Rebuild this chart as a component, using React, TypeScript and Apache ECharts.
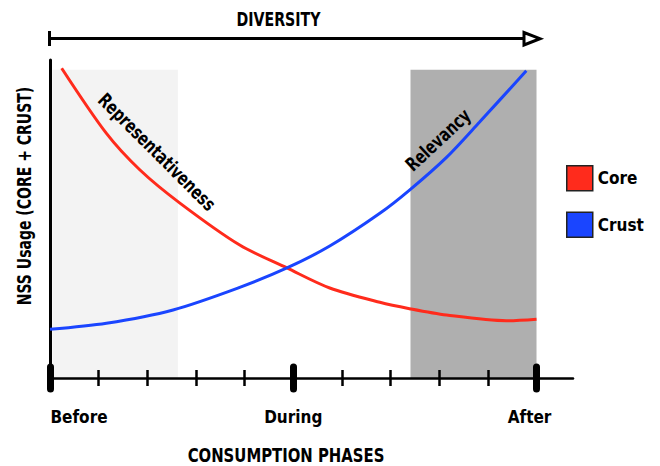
import React, { useEffect, useRef } from "react";
import * as echarts from "echarts";

// Core (red) curve: [phase position, usage]
const coreData: number[][] = [
  [0.24, 97.4], [1.16, 76.9], [1.85, 65.4], [2.67, 55.0], [3.9, 41.8],
  [4.87, 34.6], [5.75, 28.3], [6.78, 23.8], [7.39, 21.8], [8.15, 19.8],
  [9.38, 18.0], [10.0, 18.5],
];
// Crust (blue) curve
const crustData: number[][] = [
  [0.0, 15.3], [1.16, 17.2], [2.53, 21.4], [3.9, 28.5], [4.87, 34.6],
  [5.75, 41.5], [6.78, 51.8], [7.39, 59.1], [8.15, 69.4], [8.83, 80.5],
  [9.79, 96.6],
];
const phaseTicks = [0, 5, 10];
const phaseLabels = ["Before", "During", "After"];
const minorTicks = [1, 2, 3, 4, 6, 7, 8, 9];
const lightBand = [0.05, 2.63];
const darkBand = [7.41, 10];
const bandTop = 96.9;
const seriesNames = ["Core", "Crust"];

const FONT = "'Liberation Sans Narrow', 'DejaVu Sans Condensed', 'Arial Narrow', sans-serif";
const RED = "#ff2b1c";
const BLUE = "#1a45ff";

function tickAxis(values: number[], inside: boolean, len: number, width: number, cap: string) {
  return {
    type: "value",
    min: 0,
    max: 10.75,
    position: "bottom",
    z: 3,
    axisLine: { show: false },
    splitLine: { show: false },
    axisLabel: { show: false },
    axisTick: {
      show: true,
      inside,
      length: len,
      customValues: values,
      lineStyle: { color: "#000", width, cap },
    },
  };
}

export default function App() {
  const ref = useRef<HTMLDivElement>(null);
  useEffect(() => {
    if (!ref.current) return;
    const chart = echarts.init(ref.current, null, { renderer: "svg" });
    const textStyle = (size: number) => ({
      fontFamily: FONT,
      fontWeight: "bold",
      fontSize: size,
      fill: "#000",
      font: `bold ${size}px ${FONT}`,
      align: "center",
      verticalAlign: "middle",
      textAlign: "center",
      textVerticalAlign: "middle",
    });
    const labelStyle = { fontFamily: FONT, fontWeight: "bold", fontSize: 17, color: "#000" };
    chart.setOption({
      animation: false,
      backgroundColor: "#fff",
      grid: { left: 50, right: 87, top: 60, bottom: 88 },
      legend: {
        data: seriesNames,
        orient: "vertical",
        left: 566,
        top: 165,
        padding: 0,
        icon: "rect",
        itemWidth: 26,
        itemHeight: 25,
        itemGap: 20,
        itemStyle: { borderColor: "#222", borderWidth: 1.5 },
        textStyle: { fontFamily: FONT, fontWeight: "bold", fontSize: 17, color: "#000" },
        selectedMode: false,
      },
      xAxis: [
        {
          type: "value",
          min: 0,
          max: 10.75,
          position: "bottom",
          z: 3,
          axisLine: { show: true, lineStyle: { color: "#000", width: 2.5 } },
          splitLine: { show: false },
          axisTick: {
            show: true,
            length: 8,
            customValues: minorTicks,
            lineStyle: { color: "#000", width: 2.5 },
          },
          axisLabel: {
            show: true,
            customValues: phaseTicks,
            margin: 30,
            formatter: (v: number) => {
              const i = phaseTicks.indexOf(Math.round(v));
              const name = phaseLabels[i] ?? "";
              return `{p${i}|${name}}`;
            },
            rich: {
              p0: { padding: [0, 0, 0, 58], ...labelStyle },
              p1: { ...labelStyle },
              p2: { padding: [0, 14, 0, 0], ...labelStyle },
            },
          },
        },
        tickAxis(minorTicks, true, 8, 2.5, "butt"),
        tickAxis(phaseTicks, false, 11, 7, "round"),
        tickAxis(phaseTicks, true, 11, 7, "round"),
      ],
      yAxis: {
        type: "value",
        min: 0,
        max: 100,
        z: 3,
        axisLine: { show: true, lineStyle: { color: "#000", width: 3 } },
        axisTick: { show: false },
        axisLabel: { show: false },
        splitLine: { show: false },
      },
      series: [
        {
          type: "line",
          name: "darkBand",
          data: [],
          z: 1,
          silent: true,
          markArea: {
            silent: true,
            itemStyle: { color: "#afafaf" },
            data: [[{ xAxis: darkBand[0], yAxis: 0 }, { xAxis: darkBand[1], yAxis: bandTop }]],
          },
        },
        {
          type: "line",
          name: "lightBand",
          data: [],
          z: 4,
          silent: true,
          markArea: {
            silent: true,
            itemStyle: { color: "#eeeeee", opacity: 0.7 },
            data: [[{ xAxis: lightBand[0], yAxis: 0 }, { xAxis: lightBand[1], yAxis: bandTop }]],
          },
        },
        {
          type: "line",
          name: seriesNames[0],
          data: coreData,
          smooth: 0.3,
          symbol: "none",
          z: 5,
          lineStyle: { color: RED, width: 3 },
          itemStyle: { color: RED },
        },
        {
          type: "line",
          name: seriesNames[1],
          data: crustData,
          smooth: 0.3,
          symbol: "none",
          z: 5,
          lineStyle: { color: BLUE, width: 3 },
          itemStyle: { color: BLUE },
        },
      ],
      graphic: [
        { type: "text", z: 10, x: 278.5, y: 19, scaleX: 0.83, style: { text: "DIVERSITY", ...textStyle(19) } },
        { type: "line", z: 10, shape: { x1: 49, y1: 38.5, x2: 524, y2: 38.5 }, style: { stroke: "#000", lineWidth: 3 } },
        { type: "line", z: 10, shape: { x1: 49.5, y1: 31, x2: 49.5, y2: 46 }, style: { stroke: "#000", lineWidth: 3 } },
        {
          type: "polygon",
          z: 10,
          shape: { points: [[524, 32.5], [524, 45], [540, 38.7]] },
          style: { fill: "#fff", stroke: "#000", lineWidth: 3, lineJoin: "miter" },
        },
        { type: "text", z: 10, x: 24, y: 196, rotation: Math.PI / 2, scaleX: 0.82, style: { text: "NSS Usage (CORE + CRUST)", ...textStyle(19) } },
        { type: "text", z: 10, x: 286, y: 455, scaleX: 0.87, style: { text: "CONSUMPTION PHASES", ...textStyle(19) } },
        { type: "text", z: 10, x: 157, y: 152, rotation: -Math.PI / 4, scaleX: 0.82, style: { text: "Representativeness", ...textStyle(19) } },
        { type: "text", z: 10, x: 438, y: 140, rotation: 0.75, scaleX: 0.82, style: { text: "Relevancy", ...textStyle(19) } },
      ],
    });
    return () => chart.dispose();
  }, []);
  return <div ref={ref} style={{ position: "fixed", left: 0, top: 0, width: 660, height: 466 }} />;
}
